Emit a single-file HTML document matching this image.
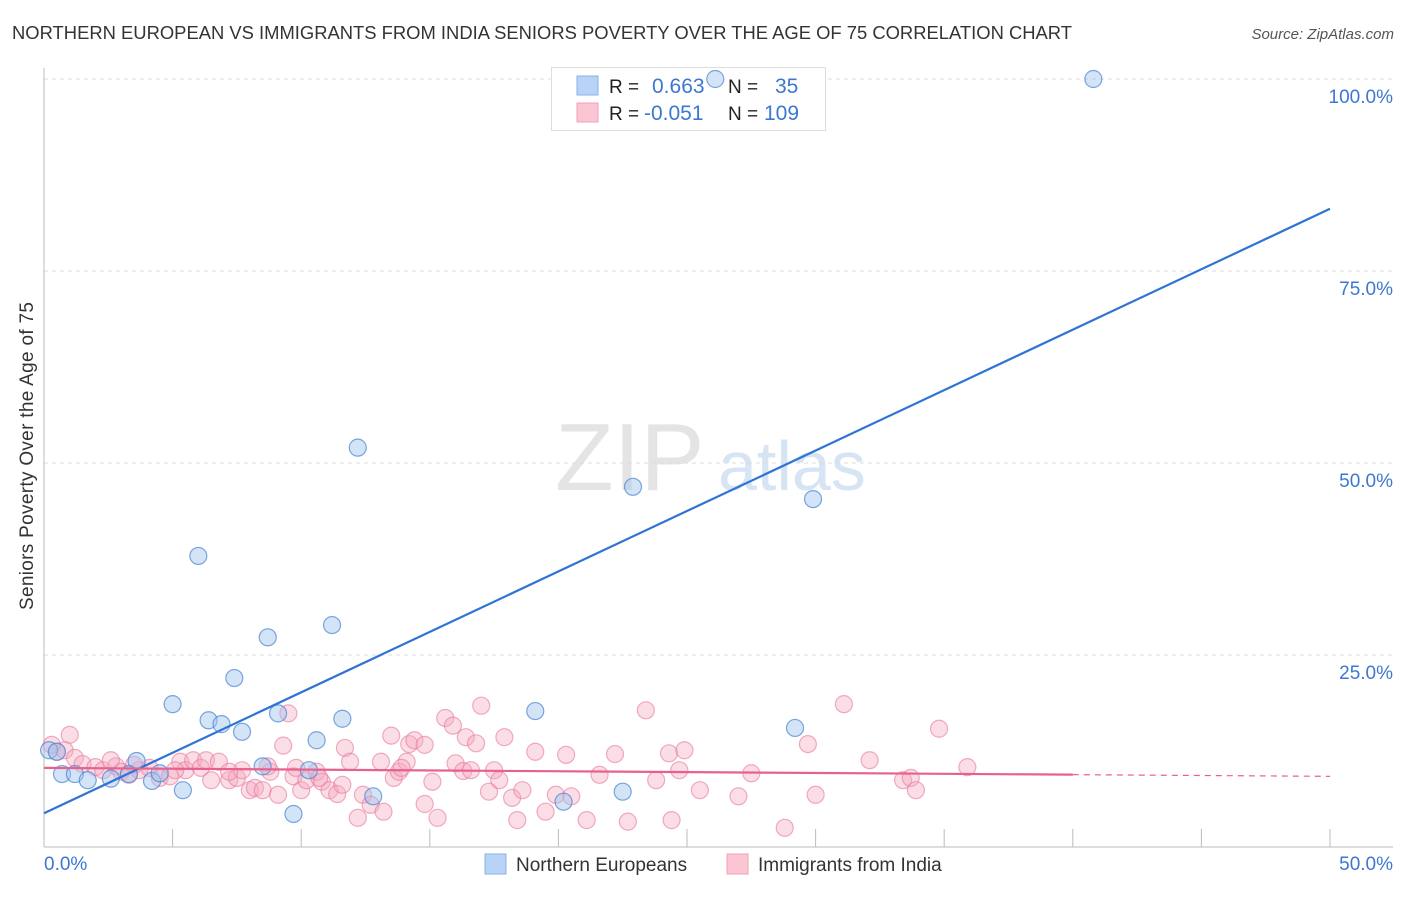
<!DOCTYPE html>
<html><head><meta charset="utf-8"><style>
body{margin:0;background:#fff;font-family:"Liberation Sans",sans-serif;}
svg text{font-family:"Liberation Sans",sans-serif;}
</style></head><body>
<svg id="chart" width="1406" height="892" xmlns="http://www.w3.org/2000/svg">
<text x="12" y="39" font-size="18" fill="#333" textLength="1060" lengthAdjust="spacingAndGlyphs">NORTHERN EUROPEAN VS IMMIGRANTS FROM INDIA SENIORS POVERTY OVER THE AGE OF 75 CORRELATION CHART</text>
<text x="1394" y="39" font-size="15" fill="#555" font-style="italic" text-anchor="end">Source: ZipAtlas.com</text>
<text x="555" y="490" font-size="96" fill="#e4e4e4" font-family="Liberation Serif">ZIP</text>
<text x="718" y="490" font-size="70" fill="#d6e4f4">atlas</text>
<text transform="translate(33,456) rotate(-90)" font-size="19" fill="#333" text-anchor="middle" textLength="308">Seniors Poverty Over the Age of 75</text>
<g id="grid"></g>
<g>
<rect x="551.5" y="67.5" width="274" height="63" fill="#fff" stroke="#ddd"/>
<rect x="577" y="76" width="21" height="19" fill="#b8d3f5" stroke="#8ab0e6"/>
<rect x="577" y="103" width="21" height="19" fill="#fbc6d4" stroke="#f0a0b8"/>
<text x="609" y="93" font-size="19" fill="#222">R =</text>
<text x="652" y="93" font-size="21" fill="#3c78d0">0.663</text>
<text x="728" y="93" font-size="19" fill="#222">N =</text>
<text x="775" y="93" font-size="21" fill="#3c78d0">35</text>
<text x="609" y="120" font-size="19" fill="#222">R =</text>
<text x="644" y="120" font-size="21" fill="#3c78d0">-0.051</text>
<text x="728" y="120" font-size="19" fill="#222">N =</text>
<text x="764" y="120" font-size="21" fill="#3c78d0">109</text>
</g>
<g id="pts"></g><g id="lines"></g>
<g>
<rect x="485" y="854" width="21" height="20" fill="#b8d3f5" stroke="#8ab0e6"/>
<text x="516" y="871" font-size="19" fill="#333">Northern Europeans</text>
<rect x="727" y="854" width="21" height="20" fill="#fbc6d4" stroke="#f0a0b8"/>
<text x="758" y="871" font-size="19" fill="#333">Immigrants from India</text>
</g>
</svg>
<script>
const blueX=[40.8,26.1,12.2,22.9,29.9,6.0,8.7,11.2,7.4,5.0,6.4,6.9,7.7,9.1,11.6,10.6,19.1,29.2,8.5,10.3,3.6,0.7,1.2,1.7,2.6,4.2,4.5,5.4,12.8,20.2,22.5,9.7,0.2,0.5,3.3];
const blueY=[100,100,52.0,46.9,45.3,37.9,27.3,28.9,22.0,18.6,16.5,16.0,15.0,17.4,16.7,13.9,17.7,15.5,10.5,10.0,11.2,9.5,9.5,8.7,8.9,8.6,9.6,7.4,6.6,5.9,7.2,4.3,12.6,12.4,9.5];
const pinkPx=[[70,735],[58,752],[65,750],[75,758],[83,764],[95,767],[103,770],[115,766],[120,772],[128,775],[140,770],[150,768],[160,778],[170,776],[180,762],[186,770],[193,760],[200,768],[205,760],[212,780],[220,762],[230,780],[238,778],[242,770],[250,790],[256,788],[262,790],[270,772],[278,795],[283,746],[288,713],[294,776],[300,790],[306,780],[316,772],[322,782],[330,790],[338,794],[345,748],[350,762],[358,818],[364,795],[370,805],[380,762],[383,812],[390,736],[395,778],[400,772],[406,762],[410,744],[414,740],[425,745],[425,804],[432,782],[437,818],[446,718],[452,726],[456,763],[462,771],[466,737],[475,743],[482,706],[490,792],[495,770],[505,737],[512,798],[516,820],[522,790],[536,752],[546,812],[556,795],[566,755],[572,796],[586,820],[616,754],[628,822],[646,710],[656,780],[668,753],[672,820],[680,770],[685,750],[739,796],[752,773],[784,828],[808,744],[816,795],[844,704],[870,760],[904,780],[911,778],[915,790],[940,729],[967,767],[52,745],[110,760],[135,765],[175,770],[228,772],[268,766],[296,768],[318,778],[342,785],[402,768],[470,770],[498,780],[600,775],[700,790]];
const pinkX=pinkPx.map(p=>+((p[0]-44)/25.72).toFixed(1));
const pinkY=pinkPx.map(p=>+((847-p[1])/7.68).toFixed(1));
const yTicks=[100,75,50,25];
const yTickLabels=["100.0%","75.0%","50.0%","25.0%"];
const blueLine=[4.4,83.1];
const pinkLine=[10.3,9.2];
const NS='http://www.w3.org/2000/svg';
const X=v=>44+v*25.72, Y=v=>847-v*7.68;
function mk(t,a,parent){const e=document.createElementNS(NS,t);for(const k in a)e.setAttribute(k,a[k]);document.getElementById(parent).appendChild(e);return e;}
yTicks.forEach((t,i)=>{
 const g=mk('line',{x1:44,x2:1393,y1:Y(t),y2:Y(t),stroke:'#ddd','stroke-dasharray':'4,4'},'grid');
 
 
 const l=mk('text',{x:1393,y:Y(t)+24,'font-size':19,fill:'#3c78d0','text-anchor':'end'},'grid');
 l.textContent=yTickLabels[i];
 
 
});
mk('line',{x1:44,x2:44,y1:68,y2:847,stroke:'#bbb'},'grid');
mk('line',{x1:44,x2:1393,y1:847,y2:847,stroke:'#bbb'},'grid');
for(let i=1;i<=10;i++){const t=mk('line',{x1:X(i*5),x2:X(i*5),y1:829,y2:847,stroke:'#bbb'},'grid');
 
 }
const x0=mk('text',{x:44,y:870,'font-size':19,fill:'#3c78d0'},'grid');x0.textContent='0.0%';


const x1=mk('text',{x:1393,y:870,'font-size':19,fill:'#3c78d0','text-anchor':'end'},'grid');x1.textContent='50.0%';


pinkX.forEach((v,i)=>{const c=mk('circle',{cx:X(v),cy:Y(pinkY[i]),r:8.5,fill:'rgba(244,170,192,0.4)',stroke:'rgba(232,120,156,0.6)','stroke-width':1.2},'pts');
 
 });
blueX.forEach((v,i)=>{const c=mk('circle',{cx:X(v),cy:Y(blueY[i]),r:8.5,fill:'rgba(160,196,238,0.45)',stroke:'rgba(70,130,210,0.7)','stroke-width':1.2},'pts');
 
 });
const bl=mk('line',{x1:X(0),y1:Y(blueLine[0]),x2:X(50),y2:Y(blueLine[1]),stroke:'#2f74d4','stroke-width':2.2},'lines');


const pm=v=>pinkLine[0]+(pinkLine[1]-pinkLine[0])*v/50;
const pl=mk('line',{x1:X(0),y1:Y(pinkLine[0]),x2:X(40),y2:Y(pm(40)),stroke:'#e8608c','stroke-width':2.2},'lines');


const pd=mk('line',{x1:X(40),y1:Y(pm(40)),x2:X(50),y2:Y(pinkLine[1]),stroke:'#e8608c','stroke-width':1.2,'stroke-dasharray':'6,5'},'lines');


</script>
</body></html>
